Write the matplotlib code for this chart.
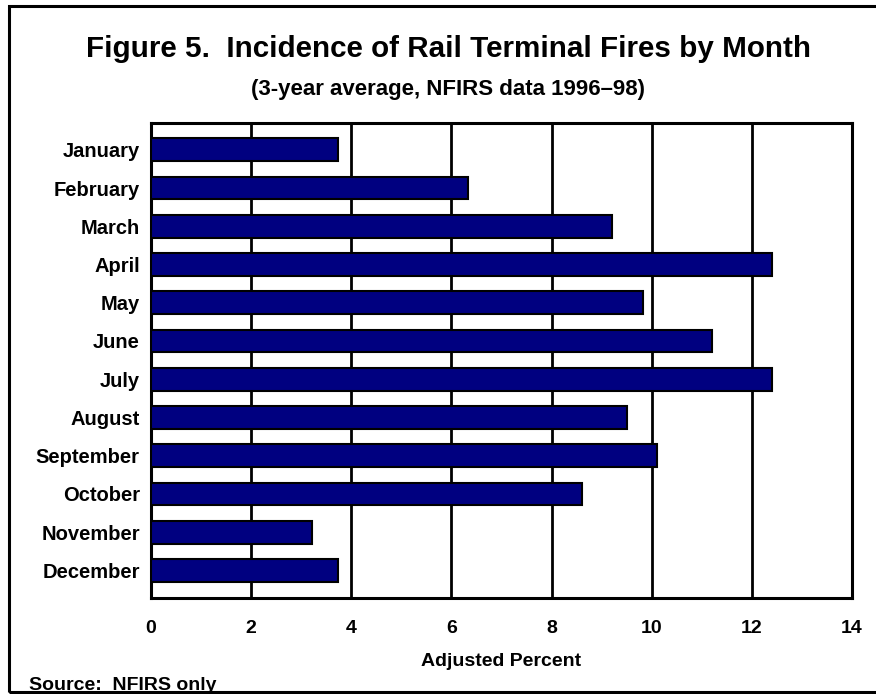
import matplotlib
matplotlib.use("Agg")
import matplotlib.pyplot as plt
from matplotlib.patches import Rectangle

# Data
months = ['January', 'February', 'March', 'April', 'May', 'June',
          'July', 'August', 'September', 'October', 'November', 'December']
percent = [3.73, 6.33, 9.21, 12.40, 9.82, 11.21,
           12.40, 9.50, 10.10, 8.61, 3.22, 3.73]
xticks = [0, 2, 4, 6, 8, 10, 12, 14]

plt.rcParams['font.family'] = ['Liberation Sans', 'DejaVu Sans']
plt.rcParams['font.weight'] = 'bold'

fig = plt.figure(figsize=(8.76, 6.94), dpi=100)
ax = fig.add_axes([151 / 876, 1 - 598 / 694, 701 / 876, 475 / 694])

pos = list(range(len(months)))
ax.barh(pos, percent, height=0.6, color='#000080', edgecolor='black',
        linewidth=1.5, zorder=3)

ax.set_xlim(0, 14)
ax.set_ylim(len(months) - 0.28, -0.7)
ax.set_xticks(xticks)
ax.set_xticklabels([str(t) for t in xticks], fontsize=14, fontweight='bold')
ax.set_yticks(pos)
ax.set_yticklabels(months, fontsize=14.5, fontweight='bold')
ax.tick_params(axis='both', length=0)
ax.tick_params(axis='y', pad=8)
ax.tick_params(axis='x', pad=16)
ax.xaxis.grid(True, color='black', linewidth=2, zorder=1)
for s in ax.spines.values():
    s.set_linewidth(2.2)

ax.set_xlabel('Adjusted Percent', fontsize=14, fontweight='bold', labelpad=11)

fig.text(448 / 876, 1 - 49 / 694, 'Figure 5.  Incidence of Rail Terminal Fires by Month',
         ha='center', va='center', fontsize=21.3, fontweight='bold')
fig.text(448 / 876, 1 - 90 / 694, '(3-year average, NFIRS data 1996\u201398)',
         ha='center', va='center', fontsize=16, fontweight='bold')
fig.text(29 / 876, 1 - 690 / 694, 'Source:  NFIRS only',
         ha='left', va='baseline', fontsize=14, fontweight='bold')

# outer frame (right side runs off the image)
fig.patches.append(Rectangle((9 / 876, 1 - 692 / 694), 1.0, 686 / 694,
                             transform=fig.transFigure, fill=False,
                             edgecolor='black', linewidth=2.2))

fig.savefig('out.png', dpi=100)
